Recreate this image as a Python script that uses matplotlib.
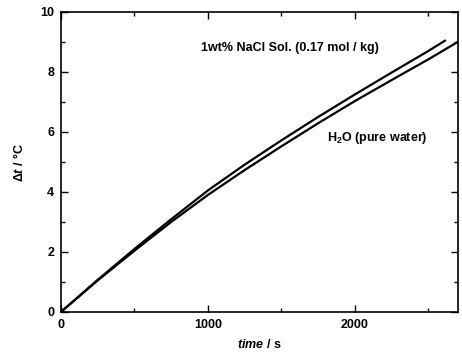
import matplotlib.pyplot as plt
from matplotlib.ticker import MultipleLocator

plt.rcParams['font.family'] = ['Liberation Sans', 'DejaVu Sans']
plt.rcParams['mathtext.fontset'] = 'custom'
plt.rcParams['mathtext.rm'] = 'Liberation Sans:bold'
plt.rcParams['mathtext.it'] = 'Liberation Sans:bold:italic'
plt.rcParams['mathtext.bf'] = 'Liberation Sans:bold'

# temperature rise vs time for the two samples
time_nacl = [0, 250, 500, 750, 1000, 1250, 1500, 1750, 2000, 2250, 2500, 2612]
dt_nacl = [0, 1.07, 2.1, 3.09, 4.05, 4.91, 5.72, 6.5, 7.25, 7.98, 8.7, 9.04]

time_h2o = [0, 250, 500, 750, 1000, 1250, 1500, 1750, 2000, 2250, 2500, 2700]
dt_h2o = [0, 1.05, 2.04, 3.0, 3.9, 4.73, 5.52, 6.29, 7.03, 7.73, 8.42, 9.0]

label_nacl = '1wt% NaCl Sol. (0.17 mol / kg)'
label_h2o = 'H$_2$O (pure water)'

fig = plt.figure(figsize=(4.62, 3.61), dpi=100)
ax = fig.add_axes([0.132, 0.136, 0.859, 0.831])

ax.plot(time_nacl, dt_nacl, color='black', lw=1.6)
ax.plot(time_h2o, dt_h2o, color='black', lw=1.6)

ax.text(1560, 8.8, label_nacl, ha='center', va='center', fontsize=9, fontweight='bold')
ax.text(2150, 5.8, label_h2o, ha='center', va='center', fontsize=9, fontweight='bold')

ax.set_xlim(0, 2700)
ax.set_ylim(0, 10)
ax.xaxis.set_major_locator(MultipleLocator(1000))
ax.xaxis.set_minor_locator(MultipleLocator(500))
ax.yaxis.set_major_locator(MultipleLocator(2))
ax.yaxis.set_minor_locator(MultipleLocator(1))
ax.tick_params(which='both', direction='in', top=True, right=True, width=1.0)
ax.tick_params(which='major', length=5, labelsize=9, pad=5)
ax.tick_params(which='minor', length=3)
for lbl in ax.get_xticklabels() + ax.get_yticklabels():
    lbl.set_fontweight('bold')
for sp in ax.spines.values():
    sp.set_linewidth(1.2)

ax.set_xlabel(r'$\it{time}$ / s', fontsize=9, fontweight='bold', labelpad=5)
ax.set_ylabel(r'$\it{\Delta t}$ / °C', fontsize=9, fontweight='bold', labelpad=10)

fig.savefig('out.png', dpi=100)
